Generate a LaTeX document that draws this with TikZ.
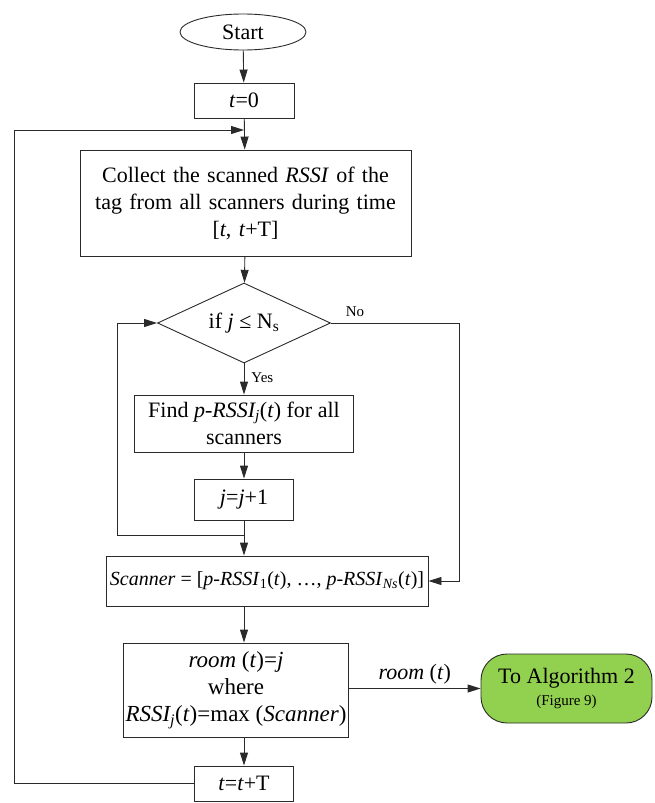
\documentclass[tikz,border=0pt]{standalone}
\usepackage{fontspec}
\setmainfont{Liberation Serif}
\usetikzlibrary{shapes.geometric,arrows.meta}
\definecolor{lineg}{HTML}{2A2A2A}
\definecolor{greenbox}{HTML}{92D050}
\tikzset{
  base/.style={draw=lineg, line width=0.9pt, inner sep=2pt, font=\fontsize{22}{27}\selectfont, align=center},
  procbox/.style={base, rectangle},
  termbox/.style={base, ellipse, inner sep=0pt},
  decbox/.style={base, diamond, inner sep=0pt, aspect=2.16},
  algobox/.style={base, rectangle, rounded corners=26pt, fill=greenbox},
  conn/.style={draw=lineg, line width=0.9pt},
  arr/.style={conn, -{Triangle[length=13pt,width=8pt]}},
  smalllab/.style={font=\fontsize{15}{18}\selectfont, inner sep=0pt}
}
\begin{document}
\begin{tikzpicture}[x=1pt,y=-1pt]
\useasboundingbox (0,0) rectangle (655,803);
% nodes
\node[termbox, minimum width=126pt, minimum height=36pt] (start) at (243,32) {Start};
\node[procbox, minimum width=100pt, minimum height=35pt] (t0) at (244,100.5) {\textit{t}=0};
\node[procbox, minimum width=331pt, minimum height=106pt, text width=320pt] (collect) at (245.5,203)
  {Collect the scanned \textit{RSSI} of the\\tag from all scanners during time\\{}[\textit{t}, \textit{t}+T]};
\node[decbox, minimum width=173pt, minimum height=80pt] (dec) at (244,323) {if \textit{j} ≤ N\textsubscript{s}};
\node[procbox, minimum width=219pt, minimum height=57pt] (find) at (244,423.5)
  {Find \textit{p-RSSI\textsubscript{j}}(\textit{t}) for all\\scanners};
\node[procbox, minimum width=99pt, minimum height=41pt] (jinc) at (244,499.5) {\textit{j}=\textit{j}+1};
\node[procbox, minimum width=322pt, minimum height=50pt, font=\fontsize{20}{24}\selectfont] (scanner) at (267,581)
  {\textit{Scanner} = [\textit{p-RSSI}\textsubscript{1}(\textit{t}), …, \textit{p-RSSI}\textsubscript{\textit{Ns}}(\textit{t})]};
\node[procbox, minimum width=222pt, minimum height=94pt, font=\fontsize{23}{27}\selectfont] (room) at (236,690)
  {\textit{room} (\textit{t})=\textit{j}\\where\\\textit{RSSI\textsubscript{j}}(\textit{t})=max (\textit{Scanner})};
\node[procbox, minimum width=99pt, minimum height=35pt] (tinc) at (244,783.5) {\textit{t}=\textit{t}+T};
\node[algobox, minimum width=171pt, minimum height=69pt] (algo) at (566.5,688.5)
  {To Algorithm 2\\[-5pt]{\fontsize{15}{18}\selectfont (Figure 9)}};
% coordinates
\coordinate (loopin) at (244,130);
\coordinate (loopbl) at (14,783.5);
\coordinate (looptl) at (14,130);
\coordinate (junc) at (244,535);
\coordinate (jl) at (117,535);
\coordinate (jt) at (117,323);
\coordinate (nr) at (459,323);
\coordinate (nb) at (459,581);
% connectors
\draw[arr] (start) -- (t0);
\draw[arr] (t0) -- (collect);
\draw[arr] (tinc.west) -- (loopbl) -- (looptl) -- (loopin);
\draw[arr] (collect) -- (dec);
\draw[arr] (dec.south) -- node[smalllab, right=7pt, pos=0.45] (yes) {Yes} (find.north);
\draw[arr] (find) -- (jinc);
\draw[conn] (jinc.south) -- (junc);
\draw[arr] (junc) -- (jl) -- (jt) -- (dec.west);
\draw[arr] (junc) -- (scanner.north -| junc);
\draw[arr] (dec.east) -- (nr) -- (nb) -- (scanner.east);
\node[smalllab] (no) at (355,312) {No};
\draw[arr] (scanner.south -| junc) -- (room.north -| junc);
\draw[arr] (room.south -| junc) -- (tinc.north);
\draw[arr] (room.east |- algo.west) -- node[above=4pt, font=\fontsize{22}{27}\selectfont, inner sep=0pt] (rlab) {\textit{room} (\textit{t})} (algo.west);
\end{tikzpicture}
\end{document}
